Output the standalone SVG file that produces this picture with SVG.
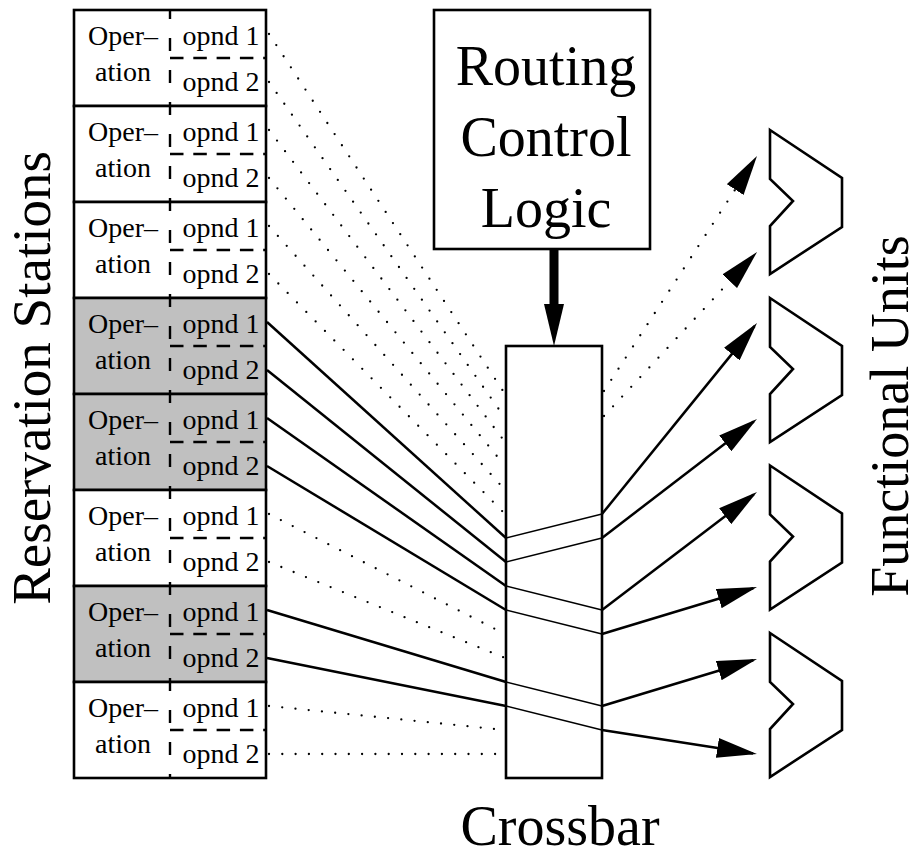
<svg xmlns="http://www.w3.org/2000/svg" width="920" height="857" viewBox="0 0 920 857">
<style>
.st{fill:#fff;stroke:#000;stroke-width:2.6}
.g .st{fill:#c0c0c0}
.dv{stroke:#000;stroke-width:2.4;stroke-dasharray:13 19;stroke-dashoffset:4}
.dh{stroke:#000;stroke-width:2.4;stroke-dasharray:13.5 9.8}
.op{font-family:"Liberation Serif","Times New Roman",serif;font-size:28px;text-anchor:middle;fill:#000}
.big{font-family:"Liberation Serif","Times New Roman",serif;font-size:56px;text-anchor:middle;fill:#000}
.box{fill:#fff;stroke:#000;stroke-width:2.6}
.dot{fill:none;stroke:#000;stroke-width:2.3;stroke-linecap:round;stroke-dasharray:0 13.3}
.sol{fill:none;stroke:#000;stroke-width:2.5}
.thin{fill:none;stroke:#000;stroke-width:1.3}
.arr{marker-end:url(#ah)}
.fu{fill:#fff;stroke:#000;stroke-width:2.6;stroke-linejoin:miter}
</style>
<defs>
<marker id="ah" markerUnits="userSpaceOnUse" markerWidth="40" markerHeight="20" viewBox="0 0 40 20" refX="36" refY="10" orient="auto">
<path d="M0,0 L40,10 L0,20 z" fill="#000"/>
</marker>
<polygon id="fushape" points="770,0 842,48 842,97 770,144 770,96 793,71 770,49"/>
</defs>
<rect width="920" height="857" fill="#fff"/>

<g id="stations">
<g id="rs1"><rect class="st" x="74" y="10" width="192" height="96"/><line class="dv" x1="170" y1="10" x2="170" y2="106"/><line class="dh" x1="170" y1="58" x2="266" y2="58"/><text class="op" x="123" y="45">Oper–</text><text class="op" x="123" y="81">ation</text><text class="op" x="221" y="45">opnd 1</text><text class="op" x="221" y="91">opnd 2</text></g>
<g id="rs2"><rect class="st" x="74" y="106" width="192" height="96"/><line class="dv" x1="170" y1="106" x2="170" y2="202"/><line class="dh" x1="170" y1="154" x2="266" y2="154"/><text class="op" x="123" y="141">Oper–</text><text class="op" x="123" y="177">ation</text><text class="op" x="221" y="141">opnd 1</text><text class="op" x="221" y="187">opnd 2</text></g>
<g id="rs3"><rect class="st" x="74" y="202" width="192" height="96"/><line class="dv" x1="170" y1="202" x2="170" y2="298"/><line class="dh" x1="170" y1="250" x2="266" y2="250"/><text class="op" x="123" y="237">Oper–</text><text class="op" x="123" y="273">ation</text><text class="op" x="221" y="237">opnd 1</text><text class="op" x="221" y="283">opnd 2</text></g>
<g id="rs4" class="g"><rect class="st" x="74" y="298" width="192" height="96"/><line class="dv" x1="170" y1="298" x2="170" y2="394"/><line class="dh" x1="170" y1="346" x2="266" y2="346"/><text class="op" x="123" y="333">Oper–</text><text class="op" x="123" y="369">ation</text><text class="op" x="221" y="333">opnd 1</text><text class="op" x="221" y="379">opnd 2</text></g>
<g id="rs5" class="g"><rect class="st" x="74" y="394" width="192" height="96"/><line class="dv" x1="170" y1="394" x2="170" y2="490"/><line class="dh" x1="170" y1="442" x2="266" y2="442"/><text class="op" x="123" y="429">Oper–</text><text class="op" x="123" y="465">ation</text><text class="op" x="221" y="429">opnd 1</text><text class="op" x="221" y="475">opnd 2</text></g>
<g id="rs6"><rect class="st" x="74" y="490" width="192" height="96"/><line class="dv" x1="170" y1="490" x2="170" y2="586"/><line class="dh" x1="170" y1="538" x2="266" y2="538"/><text class="op" x="123" y="525">Oper–</text><text class="op" x="123" y="561">ation</text><text class="op" x="221" y="525">opnd 1</text><text class="op" x="221" y="571">opnd 2</text></g>
<g id="rs7" class="g"><rect class="st" x="74" y="586" width="192" height="96"/><line class="dv" x1="170" y1="586" x2="170" y2="682"/><line class="dh" x1="170" y1="634" x2="266" y2="634"/><text class="op" x="123" y="621">Oper–</text><text class="op" x="123" y="657">ation</text><text class="op" x="221" y="621">opnd 1</text><text class="op" x="221" y="667">opnd 2</text></g>
<g id="rs8"><rect class="st" x="74" y="682" width="192" height="96"/><line class="dv" x1="170" y1="682" x2="170" y2="778"/><line class="dh" x1="170" y1="730" x2="266" y2="730"/><text class="op" x="123" y="717">Oper–</text><text class="op" x="123" y="753">ation</text><text class="op" x="221" y="717">opnd 1</text><text class="op" x="221" y="763">opnd 2</text></g>
</g>

<g id="routing"><rect class="box" x="434" y="10" width="216" height="239"/><text class="big" x="546" y="85">Routing</text><text class="big" x="546" y="156">Control</text><text class="big" x="546" y="227">Logic</text></g>

<g id="crossbar"><rect class="box" x="506" y="346" width="96" height="432"/><text class="big" x="560" y="845">Crossbar</text></g>

<g id="fu1"><use href="#fushape" class="fu" transform="translate(0,130)"/></g>
<g id="fu2"><use href="#fushape" class="fu" transform="translate(0,298)"/></g>
<g id="fu3"><use href="#fushape" class="fu" transform="translate(0,465.5)"/></g>
<g id="fu4"><use href="#fushape" class="fu" transform="translate(0,633)"/></g>

<g id="connectors">
<line class="dot" x1="269" y1="34" x2="505" y2="394"/>
<line class="dot" x1="269" y1="82" x2="505" y2="418"/>
<line class="dot" x1="269" y1="130" x2="505" y2="442"/>
<line class="dot" x1="269" y1="178" x2="505" y2="466"/>
<line class="dot" x1="269" y1="226" x2="505" y2="490"/>
<line class="dot" x1="269" y1="274" x2="505" y2="514"/>
<line class="dot" x1="269" y1="514" x2="505" y2="634"/>
<line class="dot" x1="269" y1="562" x2="505" y2="658"/>
<line class="dot" x1="269" y1="706" x2="505" y2="730"/>
<line class="dot" x1="269" y1="754" x2="505" y2="754"/>

<line class="sol" x1="267" y1="322" x2="506" y2="538"/>
<line class="sol" x1="267" y1="370" x2="506" y2="562"/>
<line class="sol" x1="267" y1="418" x2="506" y2="586"/>
<line class="sol" x1="267" y1="466" x2="506" y2="610"/>
<line class="sol" x1="267" y1="610" x2="506" y2="682"/>
<line class="sol" x1="267" y1="658" x2="506" y2="706"/>

<line class="thin" x1="506" y1="538" x2="602" y2="514"/>
<line class="thin" x1="506" y1="562" x2="602" y2="538"/>
<line class="thin" x1="506" y1="586" x2="602" y2="610"/>
<line class="thin" x1="506" y1="610" x2="602" y2="634"/>
<line class="thin" x1="506" y1="682" x2="602" y2="706"/>
<line class="thin" x1="506" y1="706" x2="602" y2="730"/>

<line class="dot arr" x1="604" y1="391" x2="754.8" y2="159.4"/>
<line class="dot arr" x1="604" y1="416" x2="754.3" y2="254.9"/>
<line class="sol arr" x1="602" y1="514" x2="754.5" y2="326.1"/>
<line class="sol arr" x1="602" y1="538" x2="753.8" y2="421.4"/>
<line class="sol arr" x1="602" y1="610" x2="753.8" y2="494.4"/>
<line class="sol arr" x1="602" y1="634" x2="753.2" y2="588.2"/>
<line class="sol arr" x1="602" y1="706" x2="753.2" y2="660.2"/>
<line class="sol arr" x1="602" y1="730" x2="753" y2="753.4"/>

<line x1="554" y1="249" x2="554" y2="306" stroke="#000" stroke-width="9"/>
<polygon points="544,304 564,304 554,346" fill="#000"/>
</g>

<g id="labels">
<text class="big" style="font-size:55px" transform="translate(49.5,378) rotate(-90)">Reservation Stations</text>
<text class="big" style="font-size:54px" transform="translate(907.5,416) rotate(-90)">Functional Units</text>
</g>
</svg>
